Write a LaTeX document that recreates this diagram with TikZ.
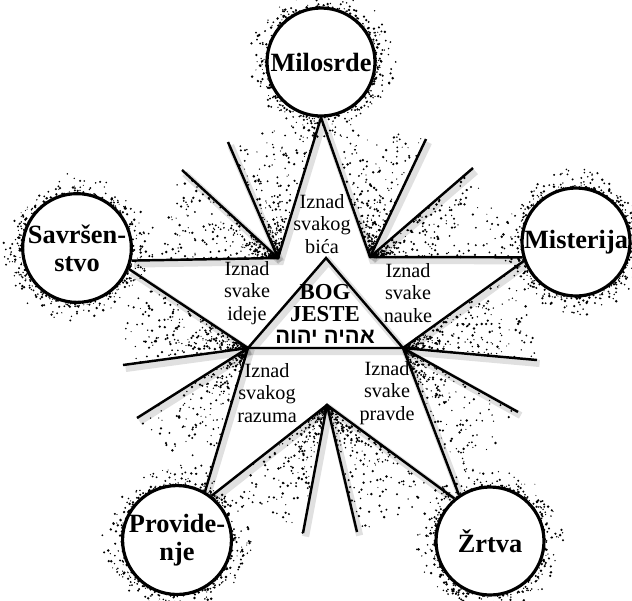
\documentclass[tikz,border=0pt]{standalone}
\usepackage{fontspec}
\setmainfont{Liberation Serif}
\newfontfamily\hebfont[Script=Hebrew]{Liberation Sans}
\TeXXeTstate=1
\usetikzlibrary{calc,backgrounds}
\pgfdeclareradialshading{glass}{\pgfpoint{5bp}{8bp}}{color(0bp)=(white); color(28bp)=(white); color(42bp)=(black!18); color(52bp)=(black!40)}
\tikzset{
  virtue/.style={circle, draw, line width=1.8pt, minimum size=2.16cm, inner sep=0pt, shade, shading=glass, align=center, font=\fontsize{15}{16}\selectfont\bfseries},
  beyond/.style={align=center, font=\fontsize{11.5}{13}\selectfont},
  edge/.style={line width=1.4pt, preaction={draw, line width=4pt, opacity=0.12, transform canvas={shift={(1.5pt,-2pt)}}}},
  grain/.style={fill=black}
}
\begin{document}
\begin{tikzpicture}[x=0.02cm, y=-0.02cm]
    \useasboundingbox (0,0) rectangle (632,600);
    \pgfmathsetseed{4}
    \node[virtue] (mil) at (321,62) {Milosrde};
    \node[virtue] (mis) at (576,242) {Misterija};
    \node[virtue] (sav) at (77,248) {Savršen-\\stvo};
    \node[virtue] (pro) at (177,540) {Provide-\\nje};
    \node[virtue] (zrt) at (490,541) {Žrtva};
    % inner corners of the star and of the triangle
    \coordinate (ul) at (278,258);
    \coordinate (ur) at (370,257);
    \coordinate (lr) at (403,348);
    \coordinate (bt) at (327,405);
    \coordinate (ll) at (248,348);
    \coordinate (apex) at (326,258);
    % free ends of the rays
    \coordinate (r1) at (228,142);
    \coordinate (r2) at (182,170);
    \coordinate (r3) at (426,139);
    \coordinate (r4) at (473,168);
    \coordinate (r5) at (537,360);
    \coordinate (r6) at (518,412);
    \coordinate (r7) at (303,533);
    \coordinate (r8) at (357,532);
    \coordinate (r9) at (123,365);
    \coordinate (r10) at (137,418);
    \begin{scope}[on background layer]
        \foreach \a/\b/\c in {ul/mil.south/r1, ul/sav.-13/r2, ur/mil.south/r3, ur/mis.196/r4, lr/mis.200/r5, lr/zrt.124/r6, bt/pro.52/r7, bt/zrt.130/r8, ll/sav.-22/r9, ll/pro.60/r10}
            \foreach \i in {1,...,260}
                \fill[grain] ($(\a)!{rnd^1.8}!($(\b)!rnd!(\c)$)$) circle ({0.3pt+0.5pt*rnd});
        \foreach \v in {mil,mis,sav,pro,zrt}
            \foreach \i in {1,...,340}
                \fill[grain] ([shift={({360*rnd}:{1.1cm+0.4cm*rnd^2.5})}]\v.center) circle ({0.3pt+0.5pt*rnd});
        \draw[edge] (sav.-13) -- (ul) -- (mil.south) -- (ur) -- (mis.196);
        \draw[edge] (mis.200) -- (lr) -- (zrt.124);
        \draw[edge] (zrt.130) -- (bt) -- (pro.52);
        \draw[edge] (pro.60) -- (ll) -- (sav.-22);
        \draw[edge] (ll) -- (apex) -- (lr) -- cycle;
        \foreach \a/\r in {ul/r1, ul/r2, ur/r3, ur/r4, lr/r5, lr/r6, bt/r7, bt/r8, ll/r9, ll/r10}
            \draw[edge] (\a) -- (\r);
    \end{scope}
    \node[beyond] (being) at (322,224) {Iznad\\svakog\\bića};
    \node[beyond] (idea) at (247,293) {Iznad\\svake\\ideje};
    \node[beyond] (lore) at (408,293) {Iznad\\svake\\nauke};
    \node[beyond] (reason) at (267,393) {Iznad\\svakog\\razuma};
    \node[beyond] (justice) at (387,393) {Iznad\\svake\\pravde};
    \node[align=center, inner sep=0pt, font=\fontsize{13}{12.5}\selectfont\bfseries] (god) at (325,303) {BOG\\JESTE};
    \node[inner sep=0pt, font=\hebfont\bfseries\fontsize{12.5}{12.5}\selectfont] (name) at (325,337) {\beginR אהיה יהוה\endR};
\end{tikzpicture}
\end{document}
